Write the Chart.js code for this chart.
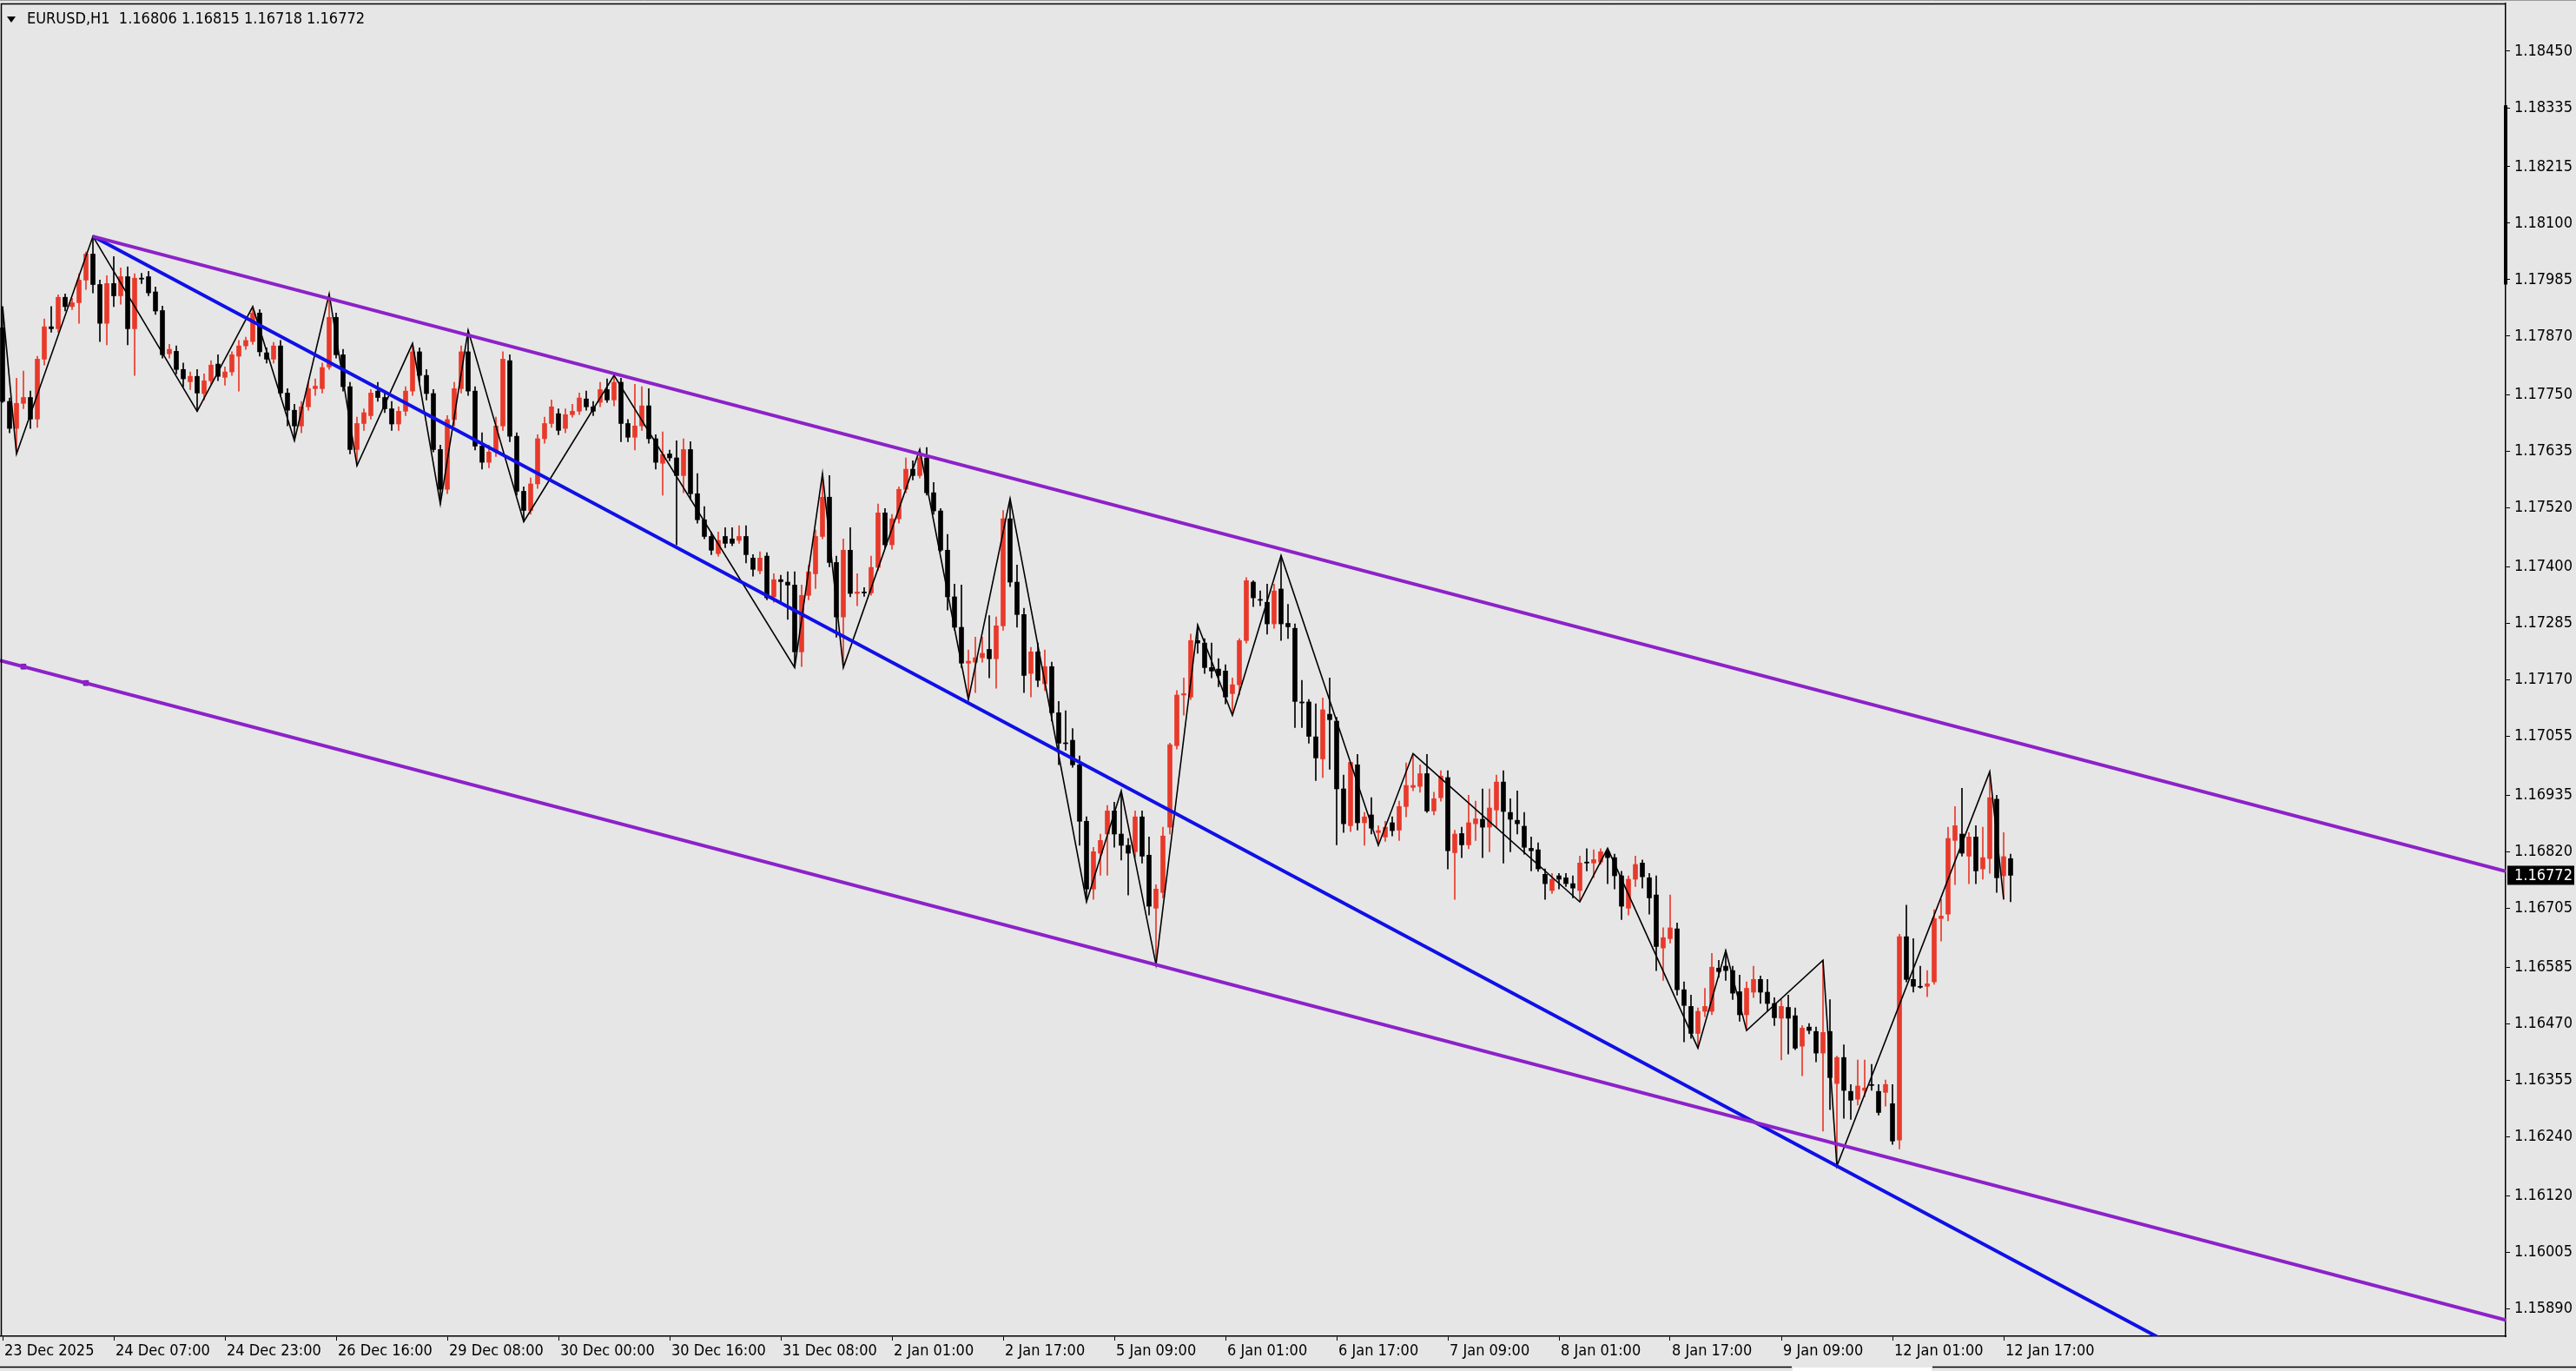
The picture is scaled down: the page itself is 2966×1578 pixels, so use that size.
<!DOCTYPE html>
<html>
<head>
<meta charset="utf-8">
<title>EURUSD,H1</title>
<script src="https://cdn.jsdelivr.net/npm/chart.js@4.4.1/dist/chart.umd.min.js"></script>
<style>
  html, body { margin: 0; padding: 0; background: #e6e6e6; }
  #wrap { width: 2966px; height: 1578px; position: relative; }
</style>
</head>
<body>
<div id="wrap"><canvas id="chart"></canvas></div>
<script>
// H1 bars, index 0 = 23 Dec 2025 15:00
const opens = [
  1.17887,1.17737,1.17682,1.17733,1.17745,1.17701,1.17823,1.17889,1.17885,1.17949,
  1.17930,1.17938,1.17984,1.18037,1.17975,1.17896,1.17977,1.17952,1.17991,1.17885,
  1.17988,1.17991,1.17960,1.17922,1.17834,1.17839,1.17802,1.17777,1.17788,1.17753,
  1.17779,1.17813,1.17786,1.17797,1.17829,1.17850,1.17859,1.17917,1.17836,1.17823,
  1.17850,1.17754,1.17719,1.17687,1.17726,1.17763,1.17763,1.17807,1.17908,1.17832,
  1.17767,1.17639,1.17692,1.17708,1.17758,1.17745,1.17722,1.17691,1.17717,1.17758,
  1.17838,1.17790,1.17753,1.17639,1.17558,1.17700,1.17763,1.17838,1.17758,1.17646,
  1.17613,1.17634,1.17687,1.17820,1.17666,1.17554,1.17515,1.17569,1.17661,1.17692,
  1.17712,1.17682,1.17710,1.17717,1.17742,1.17726,1.17735,1.17761,1.17740,1.17776,
  1.17692,1.17664,1.17687,1.17728,1.17661,1.17611,1.17630,1.17622,1.17586,1.17639,
  1.17549,1.17496,1.17462,1.17427,1.17462,1.17457,1.17454,1.17462,1.17418,1.17392,
  1.17422,1.17339,1.17374,1.17369,1.17363,1.17227,1.17342,1.17386,1.17462,1.17542,
  1.17409,1.17298,1.17434,1.17346,1.17349,1.17347,1.17399,1.17510,1.17445,1.17498,
  1.17558,1.17599,1.17586,1.17622,1.17551,1.17514,1.17434,1.17339,1.17277,1.17204,
  1.17206,1.17215,1.17232,1.17213,1.17280,1.17498,1.17369,1.17303,1.17183,1.17227,
  1.17162,1.17197,1.17103,1.17041,1.17047,1.16997,1.16882,1.16744,1.16817,1.16856,
  1.16903,1.16856,1.16833,1.16820,1.16891,1.16813,1.16705,1.16737,1.16870,1.17036,
  1.17139,1.17135,1.17250,1.17245,1.17195,1.17192,1.17188,1.17142,1.17160,1.17250,
  1.17369,1.17333,1.17328,1.17284,1.17355,1.17285,1.17275,1.17125,1.17125,1.17054,
  1.17009,1.17100,1.17086,1.16948,1.16873,1.16997,1.16879,1.16895,1.16859,1.16850,
  1.16879,1.16864,1.16912,1.16951,1.16953,1.16979,1.16903,1.16930,1.16971,1.16818,
  1.16857,1.16834,1.16877,1.16886,1.16870,1.16905,1.16962,1.16900,1.16884,1.16872,
  1.16827,1.16824,1.16774,1.16741,1.16771,1.16767,1.16755,1.16741,1.16799,1.16797,
  1.16799,1.16820,1.16808,1.16771,1.16705,1.16764,1.16797,1.16767,1.16732,1.16624,
  1.16643,1.16663,1.16539,1.16505,1.16450,1.16495,1.16495,1.16583,1.16587,1.16578,
  1.16535,1.16488,1.16534,1.16560,1.16534,1.16511,1.16481,1.16503,1.16486,1.16424,
  1.16463,1.16454,1.16410,1.16454,1.16348,1.16401,1.16332,1.16316,1.16334,1.16346,
  1.16332,1.16330,1.16307,1.16233,1.16647,1.16560,1.16546,1.16546,1.16555,1.16684,
  1.16693,1.16843,1.16856,1.16811,1.16850,1.16785,1.16806,1.16927,1.16771,1.16806
];
const highs = [
  1.17930,1.17744,1.17784,1.17799,1.17758,1.17829,1.17905,1.17930,1.17954,1.17956,
  1.17947,1.17997,1.18041,1.18073,1.17984,1.17993,1.18032,1.18009,1.18011,1.17997,
  1.17998,1.18002,1.17970,1.17931,1.17853,1.17850,1.17815,1.17797,1.17802,1.17793,
  1.17820,1.17832,1.17807,1.17838,1.17861,1.17868,1.17930,1.17924,1.17846,1.17857,
  1.17861,1.17763,1.17731,1.17737,1.17776,1.17783,1.17815,1.17956,1.17917,1.17843,
  1.17776,1.17705,1.17722,1.17761,1.17776,1.17758,1.17737,1.17726,1.17767,1.17855,
  1.17846,1.17802,1.17761,1.17648,1.17708,1.17776,1.17850,1.17882,1.17767,1.17673,
  1.17648,1.17705,1.17838,1.17832,1.17673,1.17563,1.17581,1.17669,1.17705,1.17740,
  1.17722,1.17722,1.17731,1.17754,1.17758,1.17737,1.17776,1.17783,1.17790,1.17784,
  1.17700,1.17772,1.17767,1.17763,1.17669,1.17675,1.17638,1.17657,1.17661,1.17655,
  1.17590,1.17523,1.17471,1.17471,1.17480,1.17480,1.17484,1.17484,1.17425,1.17431,
  1.17429,1.17386,1.17383,1.17390,1.17390,1.17363,1.17404,1.17475,1.17590,1.17586,
  1.17422,1.17457,1.17480,1.17386,1.17358,1.17422,1.17528,1.17519,1.17507,1.17563,
  1.17622,1.17616,1.17639,1.17643,1.17572,1.17519,1.17466,1.17365,1.17363,1.17231,
  1.17257,1.17257,1.17301,1.17298,1.17515,1.17539,1.17404,1.17316,1.17236,1.17245,
  1.17231,1.17206,1.17126,1.17107,1.17071,1.17015,1.16891,1.16829,1.16856,1.16914,
  1.16921,1.16944,1.16847,1.16903,1.16903,1.16850,1.16753,1.16870,1.17041,1.17148,
  1.17174,1.17263,1.17282,1.17254,1.17245,1.17213,1.17201,1.17174,1.17254,1.17378,
  1.17372,1.17351,1.17365,1.17365,1.17423,1.17324,1.17284,1.17169,1.17130,1.17121,
  1.17133,1.17174,1.17094,1.16976,1.17002,1.17018,1.16900,1.16930,1.16873,1.16882,
  1.16891,1.16923,1.17001,1.17020,1.16997,1.17018,1.16941,1.16985,1.16985,1.16864,
  1.16870,1.16935,1.16923,1.16948,1.16948,1.16976,1.16985,1.16928,1.16944,1.16900,
  1.16850,1.16838,1.16785,1.16776,1.16776,1.16776,1.16771,1.16811,1.16826,1.16824,
  1.16826,1.16827,1.16815,1.16780,1.16771,1.16811,1.16803,1.16776,1.16771,1.16665,
  1.16732,1.16675,1.16555,1.16528,1.16502,1.16542,1.16613,1.16599,1.16619,1.16587,
  1.16569,1.16555,1.16587,1.16567,1.16560,1.16523,1.16519,1.16528,1.16502,1.16466,
  1.16470,1.16463,1.16599,1.16519,1.16404,1.16427,1.16346,1.16396,1.16396,1.16387,
  1.16346,1.16355,1.16346,1.16652,1.16711,1.16643,1.16587,1.16578,1.16702,1.16723,
  1.16870,1.16912,1.16949,1.16859,1.16873,1.16870,1.16983,1.16935,1.16859,1.16815
];
const lows = [
  1.17735,1.17673,1.17630,1.17722,1.17682,1.17684,1.17811,1.17878,1.17878,1.17921,
  1.17924,1.17896,1.17965,1.17958,1.17859,1.17852,1.17930,1.17935,1.17852,1.17790,
  1.17977,1.17952,1.17914,1.17825,1.17825,1.17793,1.17767,1.17761,1.17717,1.17740,
  1.17772,1.17779,1.17770,1.17790,1.17758,1.17843,1.17853,1.17829,1.17815,1.17815,
  1.17747,1.17687,1.17657,1.17673,1.17719,1.17749,1.17754,1.17802,1.17825,1.17758,
  1.17630,1.17606,1.17678,1.17701,1.17737,1.17714,1.17678,1.17678,1.17708,1.17749,
  1.17776,1.17740,1.17634,1.17528,1.17549,1.17687,1.17754,1.17749,1.17638,1.17599,
  1.17602,1.17625,1.17678,1.17655,1.17546,1.17492,1.17507,1.17560,1.17652,1.17684,
  1.17669,1.17673,1.17705,1.17710,1.17719,1.17708,1.17726,1.17735,1.17728,1.17655,
  1.17655,1.17638,1.17678,1.17652,1.17599,1.17546,1.17616,1.17445,1.17551,1.17537,
  1.17489,1.17457,1.17425,1.17422,1.17439,1.17443,1.17448,1.17408,1.17381,1.17386,
  1.17333,1.17328,1.17328,1.17293,1.17195,1.17197,1.17333,1.17356,1.17457,1.17400,
  1.17257,1.17195,1.17339,1.17321,1.17340,1.17342,1.17393,1.17439,1.17436,1.17489,
  1.17551,1.17577,1.17581,1.17546,1.17507,1.17431,1.17312,1.17271,1.17195,1.17130,
  1.17144,1.17206,1.17174,1.17153,1.17271,1.17360,1.17277,1.17144,1.17135,1.17156,
  1.17148,1.17086,1.16997,1.17027,1.16992,1.16833,1.16718,1.16723,1.16772,1.16772,
  1.16829,1.16803,1.16732,1.16808,1.16797,1.16691,1.16590,1.16726,1.16856,1.17029,
  1.17098,1.17130,1.17224,1.17183,1.17174,1.17156,1.17121,1.17098,1.17139,1.17245,
  1.17319,1.17321,1.17263,1.17275,1.17250,1.17254,1.17073,1.17073,1.17041,1.16965,
  1.16971,1.16988,1.16834,1.16859,1.16861,1.16864,1.16833,1.16856,1.16833,1.16841,
  1.16852,1.16843,1.16891,1.16944,1.16941,1.16900,1.16895,1.16923,1.16785,1.16723,
  1.16808,1.16826,1.16843,1.16808,1.16820,1.16870,1.16797,1.16820,1.16856,1.16815,
  1.16781,1.16780,1.16723,1.16735,1.16744,1.16749,1.16726,1.16718,1.16781,1.16767,
  1.16794,1.16755,1.16744,1.16682,1.16691,1.16749,1.16746,1.16693,1.16578,1.16558,
  1.16634,1.16528,1.16433,1.16440,1.16420,1.16484,1.16488,1.16564,1.16558,1.16519,
  1.16475,1.16456,1.16523,1.16511,1.16496,1.16466,1.16396,1.16408,1.16417,1.16364,
  1.16449,1.16392,1.16251,1.16295,1.16180,1.16277,1.16275,1.16304,1.16321,1.16334,
  1.16284,1.16302,1.16224,1.16215,1.16555,1.16534,1.16542,1.16525,1.16550,1.16638,
  1.16679,1.16753,1.16811,1.16755,1.16755,1.16764,1.16776,1.16737,1.16723,1.16718
];
const closes = [
  1.17737,1.17682,1.17733,1.17745,1.17701,1.17823,1.17889,1.17885,1.17949,1.17930,
  1.17938,1.17984,1.18037,1.17975,1.17896,1.17977,1.17952,1.17991,1.17885,1.17988,
  1.17986,1.17958,1.17921,1.17832,1.17843,1.17802,1.17783,1.17788,1.17754,1.17779,
  1.17811,1.17788,1.17797,1.17832,1.17850,1.17861,1.17917,1.17838,1.17823,1.17850,
  1.17754,1.17719,1.17687,1.17726,1.17763,1.17768,1.17806,1.17908,1.17832,1.17767,
  1.17639,1.17692,1.17714,1.17754,1.17745,1.17722,1.17691,1.17717,1.17758,1.17838,
  1.17790,1.17753,1.17639,1.17558,1.17700,1.17763,1.17838,1.17758,1.17646,1.17613,
  1.17634,1.17687,1.17823,1.17666,1.17554,1.17515,1.17569,1.17661,1.17692,1.17726,
  1.17678,1.17710,1.17717,1.17744,1.17726,1.17717,1.17761,1.17740,1.17776,1.17692,
  1.17664,1.17687,1.17728,1.17661,1.17613,1.17629,1.17622,1.17586,1.17639,1.17549,
  1.17496,1.17462,1.17434,1.17454,1.17448,1.17448,1.17462,1.17425,1.17395,1.17418,
  1.17337,1.17374,1.17370,1.17363,1.17227,1.17342,1.17390,1.17462,1.17542,1.17409,
  1.17298,1.17434,1.17346,1.17349,1.17347,1.17399,1.17510,1.17445,1.17498,1.17558,
  1.17599,1.17586,1.17622,1.17551,1.17514,1.17434,1.17339,1.17277,1.17204,1.17208,
  1.17215,1.17224,1.17213,1.17280,1.17498,1.17369,1.17303,1.17179,1.17227,1.17169,
  1.17197,1.17103,1.17041,1.17040,1.16997,1.16882,1.16744,1.16820,1.16843,1.16903,
  1.16856,1.16833,1.16817,1.16891,1.16811,1.16709,1.16744,1.16852,1.17038,1.17139,
  1.17142,1.17250,1.17245,1.17195,1.17188,1.17179,1.17135,1.17160,1.17250,1.17372,
  1.17337,1.17332,1.17284,1.17351,1.17284,1.17278,1.17126,1.17123,1.17055,1.17011,
  1.17109,1.17089,1.16948,1.16877,1.17002,1.16879,1.16891,1.16868,1.16863,1.16870,
  1.16863,1.16912,1.16955,1.16955,1.16979,1.16903,1.16928,1.16974,1.16822,1.16856,
  1.16834,1.16879,1.16887,1.16870,1.16909,1.16962,1.16902,1.16886,1.16877,1.16829,
  1.16822,1.16785,1.16755,1.16764,1.16764,1.16755,1.16746,1.16797,1.16797,1.16804,
  1.16820,1.16808,1.16771,1.16709,1.16764,1.16794,1.16769,1.16726,1.16627,1.16645,
  1.16665,1.16539,1.16507,1.16450,1.16495,1.16505,1.16585,1.16576,1.16578,1.16532,
  1.16488,1.16542,1.16560,1.16534,1.16511,1.16482,1.16505,1.16481,1.16420,1.16461,
  1.16456,1.16410,1.16452,1.16360,1.16401,1.16334,1.16314,1.16343,1.16339,1.16344,
  1.16289,1.16346,1.16231,1.16647,1.16560,1.16546,1.16544,1.16551,1.16684,1.16689,
  1.16847,1.16873,1.16817,1.16850,1.16781,1.16808,1.16930,1.16767,1.16810,1.16772
];

// time axis labels (every 16 bars)
const timeTickBars = [0, 16, 32, 48, 64, 80, 96, 112, 128, 144, 160, 176, 192, 208, 224, 240, 256, 272, 288];
const timeTickLabels = ['23 Dec 2025', '24 Dec 07:00', '24 Dec 23:00', '26 Dec 16:00', '29 Dec 08:00',
  '30 Dec 00:00', '30 Dec 16:00', '31 Dec 08:00', '2 Jan 01:00', '2 Jan 17:00', '5 Jan 09:00',
  '6 Jan 01:00', '6 Jan 17:00', '7 Jan 09:00', '8 Jan 01:00', '8 Jan 17:00', '9 Jan 09:00',
  '12 Jan 01:00', '12 Jan 17:00'];

// price axis labels
const priceTicks = [1.18450, 1.18335, 1.18215, 1.18100, 1.17985, 1.17870, 1.17750, 1.17635,
  1.17520, 1.17400, 1.17285, 1.17170, 1.17055, 1.16935, 1.16820, 1.16705, 1.16585, 1.16470,
  1.16355, 1.16240, 1.16120, 1.16005, 1.15890];

// ZigZag swing points
const zigzagBars = [0, 2, 13, 28, 36, 42, 47, 51, 59, 63, 67, 75, 88, 114, 118, 121, 132, 139, 145,
  156, 161, 166, 172, 177, 184, 198, 203, 227, 231, 244, 248, 251, 262, 264, 286, 288];
const zigzagPrices = [1.17930, 1.17630, 1.18073, 1.17717, 1.17930, 1.17657, 1.17956, 1.17606, 1.17855,
  1.17528, 1.17882, 1.17492, 1.17790, 1.17195, 1.17590, 1.17195, 1.17639, 1.17130, 1.17539, 1.16718,
  1.16944, 1.16590, 1.17282, 1.17098, 1.17423, 1.16833, 1.17020, 1.16718, 1.16827, 1.16420, 1.16619,
  1.16456, 1.16599, 1.16180, 1.16983, 1.16723];

// trendline anchors (bar, price)
const upperBars = [13, 132];
const upperPrices = [1.18073, 1.17630];
const lowerBars = [3, 166];
const lowerPrices = [1.17197, 1.16590];
const channelMarkBars = [3, 12];
const blueBars = [13, 264];
const bluePrices = [1.18073, 1.16180];

const symbolText = 'EURUSD,H1';
const scrollMark = [1.17975, 1.18340];

const X_MIN = -0.375, X_MAX = 360.25;
const Y_MIN = 1.158334, Y_MAX = 1.185473;

const BULL = '#e8392a';
const BEAR = '#000000';
const PURPLE = '#8c22c8';
const BLUE = '#1010e6';
const FONT = "'DejaVu Sans Condensed', 'Liberation Sans', Arial, sans-serif";

function lineAt(bars, prices, x) {
  const k = (prices[1] - prices[0]) / (bars[1] - bars[0]);
  return prices[0] + k * (x - bars[0]);
}
function ray(bars, prices, fromX, toX) {
  return [{ x: fromX, y: lineAt(bars, prices, fromX) }, { x: toX, y: lineAt(bars, prices, toX) }];
}

const barColors = opens.map((o, i) => closes[i] >= o ? BULL : BEAR);
const wickData = opens.map((o, i) => ({ x: i, y: [lows[i], highs[i]] }));
const bodyData = opens.map((o, i) => ({ x: i, y: [o, closes[i]] }));

Chart.defaults.font.family = FONT;
Chart.defaults.font.size = 18;
Chart.defaults.color = '#000';

const mtDecor = {
  id: 'mtDecor',
  afterDraw(chart) {
    const ctx = chart.ctx;
    const area = chart.chartArea;
    const ys = chart.scales.y;
    const W = chart.width;
    ctx.save();
    // frame
    ctx.strokeStyle = '#9a9a9a';
    ctx.lineWidth = 1;
    ctx.beginPath(); ctx.moveTo(0, 0.5); ctx.lineTo(W, 0.5); ctx.stroke();
    ctx.strokeStyle = '#000';
    ctx.lineWidth = 1.5;
    ctx.beginPath();
    ctx.moveTo(1.5, area.bottom); ctx.lineTo(1.5, area.top + 0.5); ctx.lineTo(area.right, area.top + 0.5);
    ctx.stroke();
    ctx.beginPath(); ctx.moveTo(0, 1573.5); ctx.lineTo(2063, 1573.5); ctx.moveTo(2225, 1573.5); ctx.lineTo(W, 1573.5); ctx.stroke();
    ctx.fillStyle = '#ffffff';
    ctx.fillRect(2064, 1574, 160, 4);

    // scroll marker on the price axis
    const s0 = ys.getPixelForValue(scrollMark[1]);
    const s1 = ys.getPixelForValue(scrollMark[0]);
    ctx.fillStyle = '#000';
    ctx.fillRect(area.right - 2, s0, 4, s1 - s0);

    // title
    ctx.beginPath();
    ctx.moveTo(8, 19); ctx.lineTo(18, 19); ctx.lineTo(13, 26); ctx.closePath();
    ctx.fill();
    const last = opens.length - 1;
    ctx.font = '18px ' + FONT;
    ctx.textBaseline = 'middle';
    ctx.textAlign = 'left';
    ctx.fillText(symbolText + '  ' + [opens[last], highs[last], lows[last], closes[last]]
      .map(v => v.toFixed(5)).join(' '), 31, 22);

    // current price label
    const py = ys.getPixelForValue(closes[last]);
    ctx.fillStyle = '#000';
    ctx.fillRect(area.right + 2, py - 11, 77, 22);
    ctx.fillStyle = '#fff';
    ctx.fillText(closes[last].toFixed(5), area.right + 10, py + 1);
    ctx.restore();
  }
};

new Chart(document.getElementById('chart'), {
  type: 'bar',
  data: {
    datasets: [
      {
        type: 'line', label: 'upper', data: ray(upperBars, upperPrices, upperBars[0], X_MAX),
        borderColor: PURPLE, borderWidth: 4, pointRadius: 0, clip: 0, order: 0
      },
      {
        type: 'line', label: 'lower', data: ray(lowerBars, lowerPrices, X_MIN, X_MAX),
        borderColor: PURPLE, borderWidth: 4, pointRadius: 0, clip: 0, order: 0
      },
      {
        type: 'line', label: 'marks',
        data: channelMarkBars.map(b => ({ x: b, y: lineAt(lowerBars, lowerPrices, b) })),
        showLine: false, pointStyle: 'rect', pointRadius: 4, backgroundColor: '#7a18b4',
        borderColor: '#7a18b4', order: 0
      },
      {
        type: 'line', label: 'blue', data: ray(blueBars, bluePrices, blueBars[0], X_MAX),
        borderColor: BLUE, borderWidth: 4, pointRadius: 0, clip: 0, order: 0
      },
      {
        type: 'line', label: 'zigzag',
        data: zigzagBars.map((b, k) => ({ x: b, y: zigzagPrices[k] })),
        borderColor: '#000', borderWidth: 1.6, pointRadius: 0, tension: 0, clip: 0, order: 1
      },
      {
        label: 'body', data: bodyData, backgroundColor: barColors, barThickness: 5,
        minBarLength: 1, grouped: false, order: 3
      },
      {
        label: 'wick', data: wickData, backgroundColor: barColors, barThickness: 1,
        grouped: false, order: 4
      }
    ]
  },
  options: {
    responsive: true,
    maintainAspectRatio: false,
    animation: false,
    events: [],
    layout: { padding: { top: 4, left: 0, right: 0, bottom: 0 }, autoPadding: false },
    plugins: { legend: { display: false }, tooltip: { enabled: false } },
    scales: {
      x: {
        type: 'linear', min: X_MIN, max: X_MAX, offset: false,
        grid: { drawOnChartArea: false, drawTicks: true, tickLength: 5, color: '#000', offset: false },
        border: { display: true, color: '#000', width: 1.5 },
        afterBuildTicks: (scale) => { scale.ticks = timeTickBars.map(v => ({ value: v })); },
        afterFit: (scale) => { scale.height = 40; scale.paddingLeft = 0; scale.paddingRight = 0; },
        ticks: {
          autoSkip: false, maxRotation: 0, align: 'start', padding: 2, labelOffset: 2,
          callback: (v, i) => timeTickLabels[i]
        }
      },
      y: {
        type: 'linear', position: 'right', min: Y_MIN, max: Y_MAX,
        grid: { drawOnChartArea: false, drawTicks: true, tickLength: 5, color: '#000' },
        border: { display: true, color: '#000', width: 1.5 },
        afterBuildTicks: (scale) => { scale.ticks = priceTicks.map(v => ({ value: v })); },
        afterFit: (scale) => { scale.width = 81; scale.paddingTop = 0; scale.paddingBottom = 0; },
        ticks: { autoSkip: false, padding: 5, callback: (v) => v.toFixed(5) }
      }
    }
  },
  plugins: [mtDecor]
});
</script>
</body>
</html>
